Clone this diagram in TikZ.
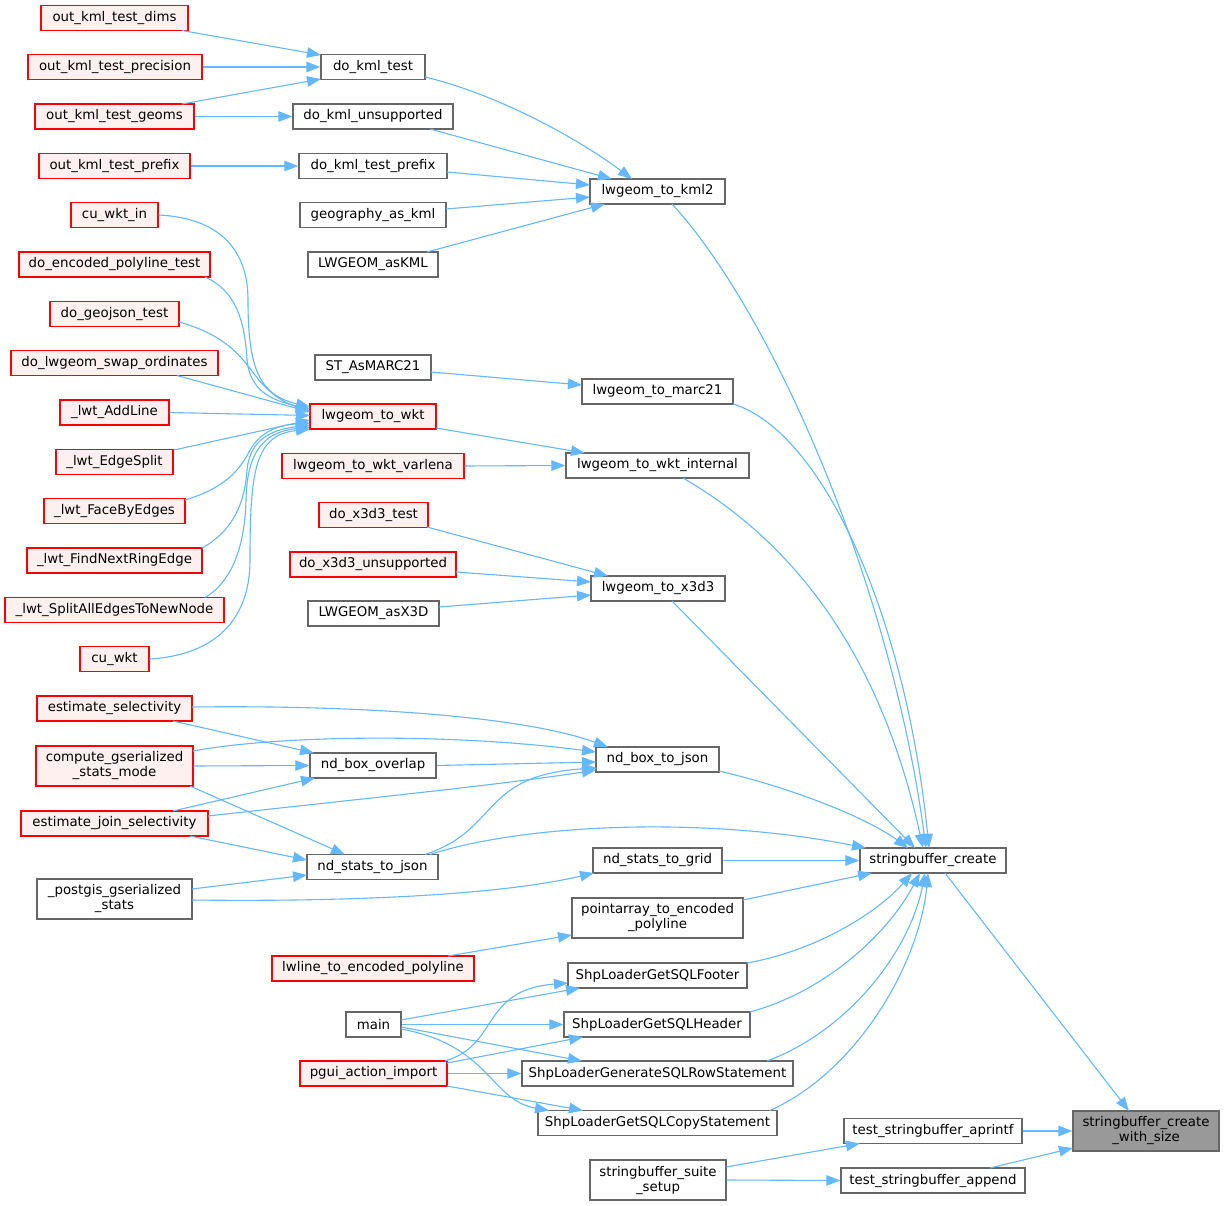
\documentclass[tikz,border=0pt]{standalone}
\usepackage{fontspec}
\usetikzlibrary{arrows.meta,calc}
\newfontfamily\dv{DejaVu Sans}
\newcommand\dvfont{\dv\fontsize{13.33pt}{15pt}\selectfont}
\definecolor{edgeblue}{HTML}{63B8FF}
\definecolor{greyforty}{HTML}{666666}
\definecolor{greysixty}{HTML}{999999}
\definecolor{redfill}{HTML}{FFF0F0}
\tikzset{
  box/.style={rectangle, draw=greyforty, line width=1.3pt, inner sep=0pt, minimum height=25pt, font=\dvfont, text=black, align=center},
  gbox/.style={box, fill=white},
  rbox/.style={box, draw=red, fill=redfill},
  tbox/.style={box, fill=greysixty, minimum height=40pt},
  cl/.style={draw=edgeblue, line width=1.1pt, -{Triangle[length=14pt,width=10.5pt]}}
}
\begin{document}
\begin{tikzpicture}[x=1pt,y=-1pt]
\useasboundingbox (0,0) rectangle (1224,1206);
\fill[white] (0,0) rectangle (1224,1206);

% left column
\node[rbox, minimum width=147pt] (dims) at (114.5,18) {out\_kml\_test\_dims};
\node[rbox, minimum width=174pt] (prec) at (115,67) {out\_kml\_test\_precision};
\node[rbox, minimum width=159pt] (geoms) at (114.5,116.5) {out\_kml\_test\_geoms};
\node[rbox, minimum width=151pt] (kpref) at (114.5,166) {out\_kml\_test\_prefix};
\node[rbox, minimum width=87pt] (cuwktin) at (114.5,215) {cu\_wkt\_in};
\node[rbox, minimum width=191pt] (encpoly) at (114.5,264.5) {do\_encoded\_polyline\_test};
\node[rbox, minimum width=129pt] (geojson) at (114.5,314) {do\_geojson\_test};
\node[rbox, minimum width=207pt] (swap) at (114.5,363) {do\_lwgeom\_swap\_ordinates};
\node[rbox, minimum width=109pt] (addline) at (114.5,412.5) {\_lwt\_AddLine};
\node[rbox, minimum width=117pt] (esplit) at (114.5,462) {\_lwt\_EdgeSplit};
\node[rbox, minimum width=141pt] (faceby) at (114.5,511) {\_lwt\_FaceByEdges};
\node[rbox, minimum width=175pt] (ringedge) at (114.5,560.5) {\_lwt\_FindNextRingEdge};
\node[rbox, minimum width=219pt] (splitall) at (114.5,610) {\_lwt\_SplitAllEdgesToNewNode};
\node[rbox, minimum width=69pt] (cuwkt) at (114.5,659) {cu\_wkt};
\node[rbox, minimum width=155pt] (estsel) at (114.5,708.5) {estimate\_selectivity};
\node[rbox, minimum width=157pt, minimum height=40pt] (compgs) at (114.5,766) {compute\_gserialized\\\_stats\_mode};
\node[rbox, minimum width=187pt] (estjoin) at (114.5,823.5) {estimate\_join\_selectivity};
\node[gbox, minimum width=155pt, minimum height=40pt] (pggs) at (114.5,899) {\_postgis\_gserialized\\\_stats};

% middle column
\node[gbox, minimum width=104pt] (dokml) at (373,67) {do\_kml\_test};
\node[gbox, minimum width=160pt] (dokmlu) at (373,116.5) {do\_kml\_unsupported};
\node[gbox, minimum width=148pt] (dokmlp) at (373,166) {do\_kml\_test\_prefix};
\node[gbox, minimum width=146pt] (geokml) at (373,215) {geography\_as\_kml};
\node[gbox, minimum width=130pt] (askml) at (373,264.5) {LWGEOM\_asKML};
\node[gbox, minimum width=116pt] (marc) at (373,367.5) {ST\_AsMARC21};
\node[rbox, minimum width=126pt] (towkt) at (373,416.5) {lwgeom\_to\_wkt};
\node[rbox, minimum width=182pt] (varl) at (373,466) {lwgeom\_to\_wkt\_varlena};
\node[rbox, minimum width=109pt] (x3dt) at (373.5,515) {do\_x3d3\_test};
\node[rbox, minimum width=166pt] (x3du) at (373,564.5) {do\_x3d3\_unsupported};
\node[gbox, minimum width=131pt] (asx3d) at (373.5,613.5) {LWGEOM\_asX3D};
\node[gbox, minimum width=126pt] (boxov) at (373,765.5) {nd\_box\_overlap};
\node[gbox, minimum width=131pt] (statsjson) at (372.5,867) {nd\_stats\_to\_json};
\node[rbox, minimum width=202pt] (lwline) at (373,968.5) {lwline\_to\_encoded\_polyline};
\node[gbox, minimum width=55pt] (main) at (373.5,1024.5) {main};
\node[rbox, minimum width=147pt] (pgui) at (373.5,1073.5) {pgui\_action\_import};

% third column
\node[gbox, minimum width=135pt] (kml2) at (657.5,191.5) {lwgeom\_to\_kml2};
\node[gbox, minimum width=151pt] (marc21) at (657.5,391.5) {lwgeom\_to\_marc21};
\node[gbox, minimum width=183pt] (wktint) at (657.5,465.5) {lwgeom\_to\_wkt\_internal};
\node[gbox, minimum width=134pt] (x3d3) at (658,588.5) {lwgeom\_to\_x3d3};
\node[gbox, minimum width=123pt] (boxjson) at (657.5,759.5) {nd\_box\_to\_json};
\node[gbox, minimum width=129pt] (grid) at (657.5,860.5) {nd\_stats\_to\_grid};
\node[gbox, minimum width=171pt, minimum height=40pt] (ptarr) at (657.5,918) {pointarray\_to\_encoded\\\_polyline};
\node[gbox, minimum width=179pt] (footer) at (657.5,975.5) {ShpLoaderGetSQLFooter};
\node[gbox, minimum width=186pt] (header) at (657,1024.5) {ShpLoaderGetSQLHeader};
\node[gbox, minimum width=271pt] (rowst) at (657.5,1073.5) {ShpLoaderGenerateSQLRowStatement};
\node[gbox, minimum width=239pt] (copyst) at (657.5,1123) {ShpLoaderGetSQLCopyStatement};
\node[gbox, minimum width=136pt, minimum height=40pt] (setup) at (658,1180) {stringbuffer\_suite\\\_setup};

% fourth column
\node[gbox, minimum width=146pt] (sbc) at (933,860.5) {stringbuffer\_create};
\node[gbox, minimum width=178pt] (aprintf) at (933,1131) {test\_stringbuffer\_aprintf};
\node[gbox, minimum width=184pt] (append) at (933,1180.5) {test\_stringbuffer\_append};

% target
\node[tbox, minimum width=146pt] (target) at (1146,1131) {stringbuffer\_create\\\_with\_size};

% kml edges
\draw[cl] ($(dims)+(67.5,12.5)$) -- ($(dokml)+(-52,-12)$);
\draw[cl] (prec.east) -- (dokml.west);
\draw[cl] ($(geoms)+(67.5,-12.5)$) -- ($(dokml)+(-52,12)$);
\draw[cl] (geoms.east) -- (dokmlu.west);
\draw[cl] (kpref.east) -- (dokmlp.west);
\draw[cl] ($(dokml)+(52,10)$) .. controls (500,95) and (580,140) .. ($(kml2)+(-25.5,-12.5)$);
\draw[cl] ($(dokmlu)+(57,12.5)$) -- ($(kml2)+(-45.5,-12.5)$);
\draw[cl] ($(dokmlp)+(74,6)$) -- ($(kml2)+(-67.5,-6.5)$);
\draw[cl] ($(geokml)+(73,-6)$) -- ($(kml2)+(-67.5,5.5)$);
\draw[cl] ($(askml)+(54,-12.5)$) -- ($(kml2)+(-52.5,12.5)$);

% wkt fan
\draw[cl] (cuwktin.east) .. controls (220,218) and (248,250) .. (248,300) .. controls (248,370) and (260,395) .. ($(towkt)+(-63,-9.5)$);
\draw[cl] ($(encpoly)+(90.5,12.5)$) .. controls (235,290) and (245,320) .. (247,360) .. controls (250,390) and (270,400) .. ($(towkt)+(-63,-7.5)$);
\draw[cl] ($(geojson)+(64.5,8)$) .. controls (225,335) and (240,355) .. (255,375) .. controls (270,395) and (285,403) .. ($(towkt)+(-63,-5.5)$);
\draw[cl] ($(swap)+(62.5,12.5)$) -- ($(towkt)+(-63,-4.5)$);
\draw[cl] (addline.east) -- ($(towkt)+(-63,-1)$);
\draw[cl] ($(esplit)+(59.5,-12)$) -- ($(towkt)+(-63,3.5)$);
\draw[cl] ($(faceby)+(70.5,-11)$) .. controls (225,488) and (240,470) .. (250,450) .. controls (262,430) and (280,425) .. ($(towkt)+(-63,6.5)$);
\draw[cl] ($(ringedge)+(87.5,-12.5)$) .. controls (235,530) and (245,500) .. (247,470) .. controls (250,440) and (270,430) .. ($(towkt)+(-63,8.5)$);
\draw[cl] ($(splitall)+(90.5,-12.5)$) .. controls (235,580) and (245,540) .. (246,500) .. controls (247,450) and (265,432) .. ($(towkt)+(-63,10.5)$);
\draw[cl] (cuwkt.east) .. controls (215,655) and (250,620) .. (250,560) .. controls (250,470) and (255,435) .. ($(towkt)+(-63,12.5)$);

\draw[cl] ($(towkt)+(63,11.5)$) -- ($(wktint)+(-72.5,-12.5)$);
\draw[cl] (varl.east) -- (wktint.west);
\draw[cl] ($(marc)+(58,4.5)$) -- ($(marc21)+(-75.5,-6.5)$);
\draw[cl] ($(x3dt)+(53.5,12)$) -- ($(x3d3)+(-50,-12.5)$);
\draw[cl] ($(x3du)+(83,7.5)$) -- ($(x3d3)+(-67,-6.5)$);
\draw[cl] ($(asx3d)+(65.5,-6.5)$) -- ($(x3d3)+(-67,6.5)$);

% nd edges
\draw[cl] ($(estsel)+(58.5,12.5)$) -- ($(boxov)+(-59,-12.5)$);
\draw[cl] (compgs.east) -- (boxov.west);
\draw[cl] ($(estjoin)+(58.5,-12.5)$) -- ($(boxov)+(-58,12.5)$);
\draw[cl] ($(estsel)+(77.5,-1.5)$) .. controls (350,705) and (520,715) .. ($(boxjson)+(-49.5,-12.5)$);
\draw[cl] ($(compgs)+(78.5,-15)$) .. controls (280,735) and (450,733) .. ($(boxjson)+(-61.5,-7.5)$);
\draw[cl] (boxov.east) -- ($(boxjson)+(-61.5,2.5)$);
\draw[cl] ($(estjoin)+(93.5,-7.5)$) .. controls (350,800) and (500,785) .. ($(boxjson)+(-61.5,10.5)$);
\draw[cl] ($(statsjson)+(52.5,-12.5)$) .. controls (500,830) and (480,775) .. ($(boxjson)+(-60.5,8.5)$);
\draw[cl] ($(compgs)+(75.5,20)$) -- ($(statsjson)+(-27.5,-12.5)$);
\draw[cl] ($(estjoin)+(75.5,12.5)$) -- ($(statsjson)+(-65.5,-7)$);
\draw[cl] ($(pggs)+(77.5,-10)$) -- ($(statsjson)+(-65.5,8)$);
\draw[cl] ($(pggs)+(77.5,1)$) .. controls (350,902) and (500,895) .. ($(grid)+(-63.5,12.5)$);
\draw[cl] ($(lwline)+(75,-12.5)$) -- ($(ptarr)+(-85.5,17)$);

% shp loader edges
\draw[cl] ($(main)+(27.5,-4.5)$) -- ($(footer)+(-77.5,12.5)$);
\draw[cl] (main.east) -- (header.west);
\draw[cl] ($(main)+(27.5,2.5)$) -- ($(rowst)+(-75.5,-12.5)$);
\draw[cl] ($(main)+(27.5,4.5)$) .. controls (490,1045) and (490,1100) .. ($(copyst)+(-108.5,-12.5)$);
\draw[cl] ($(pgui)+(71.5,-12.5)$) .. controls (500,1045) and (480,990) .. ($(footer)+(-89.5,7.5)$);
\draw[cl] ($(pgui)+(73.5,-10.5)$) -- ($(header)+(-74,12.5)$);
\draw[cl] (pgui.east) -- (rowst.west);
\draw[cl] ($(pgui)+(73.5,12.5)$) -- ($(copyst)+(-74.5,-12.5)$);

% into stringbuffer_create
\draw[cl] ($(kml2)+(14.5,12.5)$) .. controls (770,310) and (890,580) .. ($(sbc)+(-7,-12.5)$);
\draw[cl] ($(marc21)+(75.5,12.5)$) .. controls (820,430) and (905,610) .. ($(sbc)+(-4,-12.5)$);
\draw[cl] ($(wktint)+(25.5,12.5)$) .. controls (790,540) and (880,650) .. ($(sbc)+(-10,-12.5)$);
\draw[cl] ($(x3d3)+(14,12.5)$) -- ($(sbc)+(-18,-12.5)$);
\draw[cl] ($(boxjson)+(61.5,11.5)$) .. controls (800,790) and (870,820) .. ($(sbc)+(-25,-12.5)$);
\draw[cl] ($(statsjson)+(57.5,-12.5)$) .. controls (520,825) and (700,815) .. ($(sbc)+(-67,-12.5)$);
\draw[cl] (grid.east) -- (sbc.west);
\draw[cl] ($(ptarr)+(85.5,-18)$) -- ($(sbc)+(-61,12.5)$);
\draw[cl] ($(footer)+(89.5,-12.5)$) .. controls (820,950) and (880,910) .. ($(sbc)+(-21,12.5)$);
\draw[cl] ($(header)+(93,-12.5)$) .. controls (830,990) and (890,930) .. ($(sbc)+(-13,12.5)$);
\draw[cl] ($(rowst)+(109.5,-12.5)$) .. controls (850,1030) and (910,950) .. ($(sbc)+(-8,12.5)$);
\draw[cl] ($(copyst)+(112.5,-12.5)$) .. controls (860,1070) and (920,960) .. ($(sbc)+(-5,12.5)$);

% into target
\draw[cl] ($(sbc)+(12,12.5)$) -- ($(target)+(-17,-20)$);
\draw[cl] (aprintf.east) -- (target.west);
\draw[cl] ($(append)+(57,-12.5)$) -- ($(target)+(-73,17)$);
\draw[cl] ($(setup)+(68,-13)$) -- ($(aprintf)+(-73,12.5)$);
\draw[cl] (setup.east) -- (append.west);
\end{tikzpicture}
\end{document}
